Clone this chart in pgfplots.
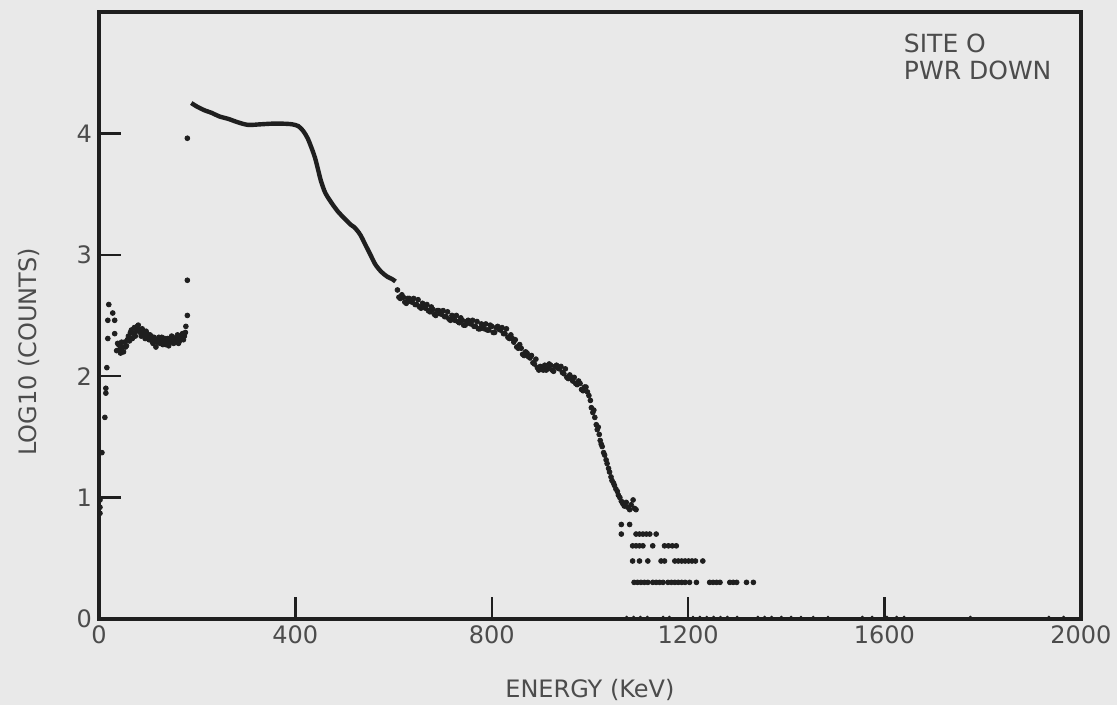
\documentclass[border=0pt]{standalone}
\usepackage{pgfplots}
\pgfplotsset{compat=1.18}
\usepackage{fontspec}
\setmainfont{DejaVu Sans}
\definecolor{ink}{rgb}{0.12,0.12,0.12}
\definecolor{txt}{rgb}{0.30,0.30,0.30}
\definecolor{paper}{rgb}{0.915,0.915,0.915}
\begin{document}
\begin{tikzpicture}
\fill[paper] (-49.5pt,-43pt) rectangle (509pt,309.5pt);
\begin{axis}[
  scale only axis,
  width=491pt, height=303.5pt,
  xmin=0, xmax=2000, ymin=0, ymax=5,
  xtick={0,400,800,1200,1600,2000},
  ytick={0,1,2,3,4},
  tick pos=left, tick align=inside,
  major tick length=11pt,
  axis line style={ink, line width=1.7pt},
  every tick/.style={ink, line width=1.2pt},
  /pgf/number format/assume math mode=true,
  /pgf/number format/1000 sep={},
  tick label style={font=\fontsize{12}{14}\selectfont, text=txt},
  xlabel={ENERGY (KeV)},
  ylabel={LOG10 (COUNTS)},
  every axis x label/.style={at={(axis description cs:0.5,-0.117)}, anchor=center, font=\fontsize{12}{14}\selectfont, text=txt},
  every axis y label/.style={at={(axis description cs:-0.0713,0.44)}, anchor=center, rotate=90, font=\fontsize{12}{14}\selectfont, text=txt},
]
% smooth continuous part of the spectrum
\addplot[smooth, line width=2.2pt, color=ink] coordinates {
(188,4.25) (200,4.22) (215,4.19) (229,4.17) (245,4.14) (263,4.12) (284,4.09)
(304,4.07) (330,4.075) (352,4.08) (375,4.08) (393,4.075) (406,4.06) (416,4.02)
(425,3.96) (433,3.88) (440,3.80) (447,3.69) (452,3.61) (461,3.51) (475,3.42)
(488,3.35) (500,3.30) (512,3.25) (519,3.23) (526,3.20) (533,3.16) (543,3.08)
(553,3.00) (563,2.92) (575,2.86) (587,2.82) (597,2.80) (604,2.78)
};
% scattered channels
\addplot[only marks, mark=*, mark size=1.2pt, color=ink] table {
x y
2 0.98
2 0.92
2 0.87
6 1.37
12 1.66
14 1.90
14 1.86
16 2.07
18 2.31
32 2.35
18 2.46
32 2.46
28 2.52
20 2.59
36 2.21
40 2.26
44 2.19
48 2.24
52 2.28
56 2.25
60 2.33
64 2.36
68 2.31
72 2.40
76 2.37
80 2.42
84 2.36
88 2.39
92 2.34
96 2.37
100 2.31
104 2.34
108 2.29
112 2.32
116 2.24
120 2.30
124 2.27
128 2.32
132 2.29
136 2.26
140 2.31
144 2.28
148 2.33
152 2.27
156 2.30
160 2.34
164 2.29
168 2.33
172 2.30
176 2.36
38 2.27
42 2.22
46 2.28
50 2.20
54 2.24
58 2.30
62 2.29
66 2.38
70 2.35
74 2.33
78 2.41
82 2.38
86 2.33
90 2.37
94 2.31
98 2.35
102 2.30
106 2.33
110 2.27
114 2.30
118 2.28
122 2.32
126 2.29
130 2.26
134 2.31
138 2.29
142 2.25
146 2.30
150 2.32
154 2.28
158 2.31
162 2.27
166 2.30
170 2.35
174 2.33
177 2.41
180 2.50
180 2.79
180 3.96
608 2.71
614 2.64
620 2.65
626 2.60
632 2.64
638 2.61
644 2.59
650 2.63
656 2.56
662 2.58
668 2.59
674 2.53
680 2.55
686 2.50
692 2.54
698 2.51
704 2.49
710 2.53
716 2.46
722 2.49
728 2.50
734 2.44
740 2.46
746 2.42
752 2.46
758 2.43
764 2.41
770 2.45
776 2.39
782 2.42
788 2.43
794 2.38
800 2.41
806 2.36
812 2.41
818 2.38
824 2.35
830 2.39
836 2.31
842 2.31
848 2.30
854 2.23
860 2.23
866 2.17
872 2.19
878 2.15
884 2.11
890 2.14
896 2.05
902 2.06
908 2.09
914 2.06
920 2.09
926 2.04
932 2.09
938 2.06
944 2.03
950 2.06
956 1.98
962 1.99
968 1.99
974 1.93
980 1.94
986 1.88
992 1.91
998 1.84
611 2.65
617 2.67
623 2.61
629 2.64
635 2.615
641 2.64
647 2.59
653 2.57
659 2.60
665 2.56
671 2.54
677 2.57
683 2.51
689 2.54
695 2.515
701 2.54
707 2.49
713 2.47
719 2.50
725 2.46
731 2.45
737 2.48
743 2.42
749 2.45
755 2.435
761 2.46
767 2.41
773 2.39
779 2.43
785 2.39
791 2.38
797 2.42
803 2.36
809 2.40
815 2.385
821 2.40
827 2.35
833 2.32
839 2.34
845 2.28
851 2.24
857 2.26
863 2.18
869 2.20
875 2.16
881 2.17
887 2.10
893 2.07
899 2.08
905 2.05
911 2.05
917 2.10
923 2.05
929 2.08
935 2.065
941 2.08
947 2.02
953 1.99
959 2.01
965 1.96
971 1.94
977 1.96
983 1.89
989 1.91
995 1.87
1001 1.80
1003 1.74
1006 1.70
1008 1.72
1010 1.66
1013 1.60
1015 1.56
1017 1.58
1019 1.52
1021 1.47
1023 1.44
1025 1.42
1028 1.37
1030 1.35
1033 1.31
1035 1.28
1038 1.24
1040 1.21
1043 1.17
1045 1.14
1048 1.12
1050 1.10
1053 1.07
1056 1.05
1058 1.02
1061 1.00
1064 0.97
1067 0.95
1070 0.93
1074 0.96
1077 0.92
1081 0.90
1084 0.94
1088 0.98
1091 0.91
1094 0.90
1064 0.778
1081 0.778
1064 0.699
1094 0.699
1101 0.699
1108 0.699
1115 0.699
1122 0.699
1135 0.699
1087 0.602
1094 0.602
1101 0.602
1108 0.602
1128 0.602
1152 0.602
1160 0.602
1168 0.602
1176 0.602
1087 0.477
1101 0.477
1118 0.477
1145 0.477
1152 0.477
1173 0.477
1180 0.477
1187 0.477
1194 0.477
1201 0.477
1208 0.477
1215 0.477
1230 0.477
1090 0.301
1097 0.301
1104 0.301
1111 0.301
1118 0.301
1128 0.301
1135 0.301
1142 0.301
1149 0.301
1159 0.301
1166 0.301
1173 0.301
1180 0.301
1187 0.301
1194 0.301
1203 0.301
1217 0.301
1244 0.301
1251 0.301
1258 0.301
1265 0.301
1285 0.301
1292 0.301
1299 0.301
1319 0.301
1333 0.301
};
% single-count channels lying on the axis
\addplot[only marks, mark=*, mark size=0.8pt, color=ink] table {
x y
1075 0.01
1089 0.01
1103 0.01
1117 0.01
1149 0.01
1162 0.01
1210 0.01
1224 0.01
1238 0.01
1252 0.01
1266 0.01
1280 0.01
1300 0.01
1342 0.01
1356 0.01
1370 0.01
1390 0.01
1410 0.01
1430 0.01
1455 0.01
1485 0.01
1555 0.01
1575 0.01
1605 0.01
1625 0.01
1640 0.01
1775 0.01
1935 0.01
1965 0.01
};
\node[anchor=west, font=\fontsize{12.5}{15}\selectfont, text=txt, inner sep=0pt] at (axis cs:1639,4.74) {SITE O};
\node[anchor=west, font=\fontsize{12.5}{15}\selectfont, text=txt, inner sep=0pt] at (axis cs:1639,4.52) {PWR DOWN};
\end{axis}
\end{tikzpicture}
\end{document}
